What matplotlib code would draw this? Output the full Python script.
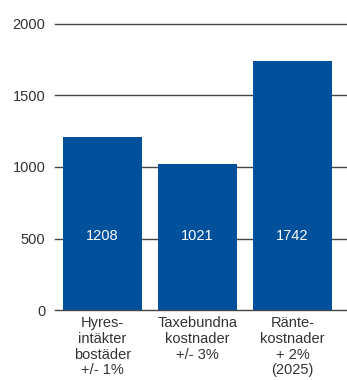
import matplotlib.pyplot as plt

categories = ['Hyres-\nintäkter\nbostäder\n+/- 1%', 'Taxebundna\nkostnader\n+/- 3%', 'Ränte-\nkostnader\n+ 2%\n(2025)']
values = [1208, 1021, 1742]
yticks = [0, 500, 1000, 1500, 2000]

plt.rcParams['font.family'] = ['Liberation Sans', 'DejaVu Sans']
blue = '#00509b'
grey = '#333333'

fig = plt.figure(figsize=(3.47, 3.80), dpi=100)
ax = fig.add_axes([55/347, (380-310)/380, 292/347, (310-24)/380])

x = range(len(values))
ax.bar(x, values, width=0.83, color=blue, zorder=2)
for i, v in enumerate(values):
    ax.text(i, 520, str(v), color='white', ha='center', va='center', fontsize=10.5, zorder=3)

ax.set_xlim(-0.5, 2.574)
ax.set_ylim(0, 2000)
ax.set_yticks(yticks)
ax.set_yticklabels([str(t) for t in yticks], fontsize=10.5, color=grey)
ax.yaxis.grid(True, color='#444444', linewidth=1, zorder=1)
for gl in ax.get_ygridlines():
    gl.set_clip_on(False)
ax.tick_params(axis='y', length=0, pad=7)
ax.tick_params(axis='x', length=0, pad=4)
ax.set_xticks(list(x))
ax.set_xticklabels(categories, fontsize=10.5, color=grey, linespacing=1.18, va='top')
for s in ax.spines.values():
    s.set_visible(False)

fig.savefig('out.png', dpi=100)
